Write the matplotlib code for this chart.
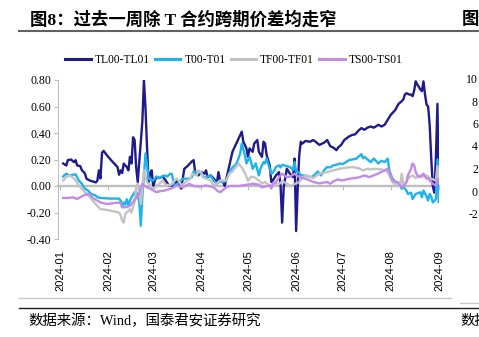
import matplotlib
matplotlib.use("Agg")
import matplotlib.pyplot as plt
import matplotlib.dates as mdates
from matplotlib.lines import Line2D
from matplotlib.ticker import FormatStrFormatter
import pandas as pd

plt.rcParams["font.family"] = ["Liberation Serif", "Noto Sans CJK SC"]

# TL00-TL01
tl_dates = ["01-03", "01-05", "01-06", "01-08", "01-10", "01-11", "01-12", "01-14", "01-15", "01-17",
            "01-18", "01-20", "01-24", "01-25", "01-26", "01-27", "01-28", "01-29", "01-30", "02-01",
            "02-04", "02-07", "02-08", "02-09", "02-10", "02-11", "02-13", "02-14", "02-15", "02-16",
            "02-17", "02-18", "02-19", "02-20", "02-21", "02-23", "02-24", "02-25", "02-26", "02-27",
            "02-28", "02-29", "03-01", "03-02", "03-03", "03-05", "03-07", "03-09", "03-11", "03-14",
            "03-16", "03-18", "03-19", "03-21", "03-23", "03-26", "03-27", "03-28", "03-30", "04-01",
            "04-03", "04-04", "04-05", "04-07", "04-09", "04-11", "04-12", "04-13", "04-15", "04-16",
            "04-19", "04-21", "04-25", "04-27", "04-28", "04-30", "05-01", "05-02", "05-04", "05-05",
            "05-07", "05-08", "05-10", "05-11", "05-12", "05-13", "05-15", "05-16", "05-17", "05-19",
            "05-21", "05-22", "05-23", "05-24", "05-26", "05-28", "05-30", "05-31", "06-01", "06-02",
            "06-03", "06-04", "06-05", "06-07", "06-10", "06-12", "06-14", "06-16", "06-19", "06-21",
            "06-23", "06-25", "06-27", "06-28", "06-30", "07-02", "07-05", "07-07", "07-09", "07-11",
            "07-13", "07-15", "07-17", "07-19", "07-21", "07-24", "07-26", "07-28", "07-30", "08-01",
            "08-02", "08-04", "08-05", "08-06", "08-08", "08-09", "08-10", "08-11", "08-13", "08-14",
            "08-15", "08-16", "08-17", "08-18", "08-20", "08-21", "08-22", "08-23", "08-24", "08-25",
            "08-26", "08-27", "08-28", "08-29", "08-30", "08-31", "09-01"]
tl_vals = [0.17, 0.155, 0.195, 0.20, 0.18, 0.195, 0.155, 0.15, 0.12, 0.095,
           0.055, 0.042, 0.027, 0.04, 0.118, 0.057, 0.25, 0.265, 0.25, 0.22,
           0.18, 0.143, 0.085, 0.118, 0.098, 0.169, 0.143, 0.118, 0.22, 0.17,
           0.368, 0.347, 0.14, 0.03, 0.18, 0.49, 0.80, 0.59, 0.29, 0.03,
           0.093, 0.118, -0.01, 0.042, 0.067, 0.06, 0.072, 0.042, 0.004, 0.0,
           0.04, 0.0, -0.02, 0.13, 0.15, 0.187, 0.195, 0.105, 0.08, 0.105,
           0.093, 0.118, 0.067, 0.08, 0.055, 0.024, 0.105, 0.04, 0.03, 0.0,
           0.156, 0.258, 0.36, 0.41, 0.334, 0.284, 0.22, 0.284, 0.258, 0.32,
           0.347, 0.258, 0.22, 0.334, 0.32, 0.233, 0.156, 0.03, 0.042, 0.08,
           0.105, 0.0, -0.276, -0.01, 0.13, 0.093, 0.067, 0.207, -0.34, -0.02,
           0.233, 0.334, 0.32, 0.34, 0.334, 0.347, 0.33, 0.31, 0.327, 0.347,
           0.30, 0.29, 0.27, 0.29, 0.31, 0.347, 0.373, 0.385, 0.39, 0.416,
           0.437, 0.424, 0.441, 0.449, 0.44, 0.462, 0.449, 0.462, 0.50, 0.538,
           0.551, 0.576, 0.60, 0.62, 0.64, 0.653, 0.69, 0.70, 0.69, 0.69,
           0.678, 0.72, 0.79, 0.767, 0.729, 0.716, 0.79, 0.69, 0.614, 0.60,
           0.46, 0.207, 0.0, -0.05, 0.21, 0.62, -0.12]

# T00-T01
t_dates = ["01-03", "01-05", "01-07", "01-11", "01-13", "01-15", "01-17", "01-19", "01-21", "01-24",
           "01-25", "01-27", "02-02", "02-08", "02-09", "02-10", "02-11", "02-12", "02-13", "02-14",
           "02-15", "02-16", "02-18", "02-19", "02-20", "02-21", "02-22", "02-23", "02-24", "02-25",
           "02-26", "02-27", "02-29", "03-01", "03-03", "03-05", "03-08", "03-10", "03-12", "03-13",
           "03-14", "03-15", "03-17", "03-20", "03-24", "03-26", "03-27", "03-30", "04-01", "04-02",
           "04-04", "04-07", "04-09", "04-11", "04-13", "04-15", "04-17", "04-19", "04-21", "04-23",
           "04-24", "04-26", "04-27", "04-29", "04-30", "05-02", "05-03", "05-04", "05-06", "05-08",
           "05-09", "05-11", "05-12", "05-13", "05-15", "05-16", "05-17", "05-19", "05-21", "05-22",
           "05-23", "05-26", "05-28", "05-30", "05-31", "06-01", "06-03", "06-04", "06-06", "06-11",
           "06-13", "06-15", "06-17", "06-19", "06-21", "06-23", "06-25", "06-27", "06-29", "07-01",
           "07-03", "07-05", "07-07", "07-10", "07-11", "07-13", "07-14", "07-15", "07-17", "07-19",
           "07-21", "07-24", "07-26", "07-28", "07-30", "07-31", "08-02", "08-04", "08-06", "08-08",
           "08-09", "08-11", "08-12", "08-14", "08-15", "08-17", "08-20", "08-21", "08-22", "08-24",
           "08-25", "08-26", "08-27", "08-28", "08-30", "08-31", "09-01"]
t_vals = [0.072, 0.093, 0.08, 0.088, 0.042, 0.017, -0.02, -0.034, -0.06, -0.072,
          -0.085, -0.09, -0.095, -0.095, -0.11, -0.16, -0.124, -0.14, -0.10, -0.15,
          -0.11, -0.085, -0.047, -0.047, -0.07, -0.124, -0.30, -0.07, 0.08, 0.246,
          0.156, 0.055, 0.042, 0.042, 0.072, 0.06, 0.08, 0.072, 0.093, 0.09,
          0.03, 0.0, 0.02, 0.055, 0.055, 0.067, 0.11, 0.105, 0.095, 0.067,
          0.07, 0.075, 0.04, 0.017, 0.035, 0.03, 0.04, 0.10, 0.14, 0.16,
          0.18, 0.246, 0.32, 0.233, 0.17, 0.22, 0.18, 0.13, 0.17, 0.08,
          0.13, 0.18, 0.17, 0.207, 0.13, 0.093, 0.10, 0.143, 0.156, 0.14,
          0.16, 0.15, 0.143, 0.12, 0.18, 0.11, 0.10, 0.08, 0.08, 0.067,
          0.085, 0.11, 0.08, 0.12, 0.143, 0.14, 0.156, 0.16, 0.17, 0.165,
          0.18, 0.195, 0.20, 0.207, 0.22, 0.24, 0.21, 0.22, 0.20, 0.18,
          0.207, 0.17, 0.19, 0.18, 0.207, 0.118, 0.055, 0.03, 0.025, -0.02,
          -0.005, -0.034, -0.06, -0.05, -0.098, -0.06, -0.047, -0.085, -0.034, -0.08,
          -0.11, -0.06, -0.08, -0.124, -0.10, 0.20, -0.12]

# TF00-TF01
tf_dates = ["01-03", "01-05", "01-07", "01-09", "01-11", "01-13", "01-15", "01-17", "01-19", "01-20",
            "01-22", "01-25", "01-27", "01-31", "02-04", "02-08", "02-09", "02-10", "02-11", "02-12",
            "02-13", "02-15", "02-16", "02-18", "02-19", "02-20", "02-21", "02-22", "02-23", "02-24",
            "02-25", "02-26", "02-28", "03-01", "03-03", "03-05", "03-07", "03-09", "03-12", "03-14",
            "03-16", "03-18", "03-19", "03-23", "03-25", "03-26", "03-29", "03-30", "04-01", "04-02",
            "04-04", "04-07", "04-09", "04-11", "04-13", "04-17", "04-19", "04-21", "04-24", "04-25",
            "04-27", "04-29", "05-01", "05-03", "05-05", "05-08", "05-10", "05-12", "05-15", "05-17",
            "05-19", "05-21", "05-23", "05-26", "05-28", "06-01", "06-03", "06-05", "06-08", "06-12",
            "06-16", "06-21", "06-25", "06-29", "07-03", "07-07", "07-11", "07-14", "07-17", "07-19",
            "07-22", "07-26", "07-29", "07-31", "08-02", "08-05", "08-07", "08-08", "08-09", "08-11",
            "08-13", "08-15", "08-17", "08-20", "08-22", "08-24", "08-26", "08-28", "08-30", "08-31",
            "09-01"]
tf_vals = [0.042, 0.067, 0.08, 0.067, 0.042, 0.004, -0.02, -0.047, -0.072, -0.08,
           -0.11, -0.15, -0.174, -0.18, -0.19, -0.20, -0.22, -0.263, -0.276, -0.21,
           -0.20, -0.174, -0.20, -0.12, -0.01, 0.017, -0.06, -0.136, -0.01, 0.118,
           0.08, 0.03, 0.004, -0.02, 0.0, 0.017, 0.042, 0.01, 0.004, 0.03,
           0.055, 0.03, 0.004, 0.042, 0.055, 0.093, 0.08, 0.118, 0.10, 0.067,
           0.055, 0.042, 0.004, 0.02, 0.042, 0.042, 0.093, 0.11, 0.156, 0.17,
           0.14, 0.10, 0.04, 0.07, 0.067, 0.042, 0.02, 0.03, 0.004, 0.0,
           0.02, 0.015, 0.035, 0.02, 0.0, 0.02, 0.03, 0.067, 0.08, 0.06,
           0.093, 0.105, 0.118, 0.13, 0.138, 0.143, 0.135, 0.118, 0.13, 0.125,
           0.13, 0.125, 0.118, 0.08, 0.03, 0.0, 0.005, 0.093, 0.01, 0.03,
           0.067, 0.08, 0.06, 0.08, 0.07, 0.08, 0.06, 0.05, 0.04, 0.15,
           0.03]

# TS00-TS01
ts_dates = ["01-03", "01-07", "01-09", "01-12", "01-14", "01-16", "01-19", "01-20", "01-22", "01-25",
            "01-27", "01-31", "02-04", "02-08", "02-09", "02-10", "02-13", "02-15", "02-17", "02-19",
            "02-21", "02-22", "02-23", "02-24", "02-26", "02-28", "03-03", "03-05", "03-08", "03-12",
            "03-14", "03-16", "03-20", "03-24", "03-27", "03-31", "04-04", "04-09", "04-11", "04-13",
            "04-15", "04-17", "04-19", "04-25", "04-30", "05-04", "05-08", "05-10", "05-15", "05-16",
            "05-17", "05-19", "05-21", "05-23", "05-26", "05-28", "05-31", "06-03", "06-05", "06-07",
            "06-10", "06-12", "06-16", "06-21", "06-23", "06-25", "06-28", "06-30", "07-02", "07-05",
            "07-09", "07-12", "07-15", "07-18", "07-21", "07-25", "07-28", "07-30", "07-31", "08-01",
            "08-02", "08-05", "08-07", "08-09", "08-11", "08-12", "08-14", "08-15", "08-16", "08-17",
            "08-18", "08-20", "08-22", "08-24", "08-25", "08-26", "08-28", "08-30", "08-31", "09-01"]
ts_vals = [-0.09, -0.09, -0.085, -0.098, -0.085, -0.072, -0.06, -0.065, -0.09, -0.11,
           -0.124, -0.136, -0.13, -0.125, -0.13, -0.16, -0.16, -0.15, -0.12, -0.09,
           -0.06, -0.01, 0.017, 0.005, -0.01, -0.02, -0.047, -0.04, -0.035, -0.02,
           -0.01, 0.004, -0.01, 0.017, 0.0, -0.005, 0.004, -0.01, -0.034, -0.047,
           -0.03, -0.01, 0.0, 0.0, 0.009, 0.017, 0.01, -0.01, 0.004, -0.02,
           0.017, 0.03, 0.067, 0.093, 0.067, 0.07, 0.093, 0.067, 0.06, 0.055,
           0.042, 0.03, 0.02, 0.03, 0.017, 0.035, 0.05, 0.042, 0.045, 0.055,
           0.06, 0.067, 0.08, 0.067, 0.08, 0.10, 0.118, 0.13, 0.105, 0.08,
           0.042, 0.03, 0.004, -0.01, 0.03, 0.08, 0.13, 0.17, 0.156, 0.105,
           0.08, 0.067, 0.093, 0.055, 0.06, 0.042, 0.017, 0.004, 0.055, 0.03]

series = [("TL00-TL01", tl_dates, tl_vals, "#1E1B8E"),
          ("T00-T01", t_dates, t_vals, "#1DB3EE"),
          ("TF00-TF01", tf_dates, tf_vals, "#C3C3C3"),
          ("TS00-TS01", ts_dates, ts_vals, "#C38AEA")]

y_ticks = [-0.4, -0.2, 0.0, 0.2, 0.4, 0.6, 0.8]
right_labels = ["10", "8", "6", "4", "2", "0", "-2"]


def to_dates(days):
    return pd.to_datetime(["2024-" + d for d in days])


fig = plt.figure(figsize=(4.79, 3.37), dpi=100)
W, H = 479, 337
ax = fig.add_axes([58 / W, 1 - 239 / H, (439 - 58) / W, (239 - 80) / H])

for name, d, v, c in series:
    ax.plot(to_dates(d), v, color=c, lw=1.7, label=name)

x0 = pd.Timestamp("2023-12-30 16:00")
x1 = pd.Timestamp("2024-09-01")
ax.set_xlim(x0, x1)
ax.set_ylim(-0.4, 0.8)
ax.set_yticks(y_ticks)
ax.yaxis.set_major_formatter(FormatStrFormatter("%.2f"))
ax.xaxis.set_major_locator(mdates.MonthLocator())
ax.xaxis.set_major_formatter(mdates.DateFormatter("%Y-%m"))

for s in ["top", "right", "bottom"]:
    ax.spines[s].set_visible(False)
ax.spines["left"].set_color("#BFBFBF")
ax.tick_params(axis="y", length=3, color="#BFBFBF", labelsize=8.5, pad=2)
ax.tick_params(axis="x", length=0, pad=8, labelsize=8, labelrotation=90,
               labelfontfamily="Liberation Sans")

# zero line with small month ticks
zx = ax.twiny()
zx.set_xlim(mdates.date2num(x0), mdates.date2num(x1))
zx.xaxis.set_major_locator(mdates.MonthLocator())
for s in ["top", "right", "left"]:
    zx.spines[s].set_visible(False)
zx.spines["bottom"].set_position(("data", 0))
zx.spines["bottom"].set_color("#BFBFBF")
zx.spines["bottom"].set_linewidth(1.7)
zx.xaxis.set_ticks_position("bottom")
zx.tick_params(axis="x", length=3, color="#BFBFBF", labelbottom=False, labeltop=False)
ax.set_zorder(zx.get_zorder() + 1)
ax.patch.set_visible(False)

handles, labels = ax.get_legend_handles_labels()
leg = fig.legend(handles, labels, loc="center", bbox_to_anchor=(234 / W, 1 - 60 / H),
                 ncol=4, frameon=False, fontsize=8.3, handlelength=2.2,
                 handletextpad=0.35, columnspacing=0.45)
for h in leg.get_lines():
    h.set_linewidth(2.2)

# title and frame lines
fig.text(30 / W, 1 - 20 / H, "图8：过去一周除 T 合约跨期价差均走窄", fontsize=12.5,
         fontweight="bold", va="center", ha="left")
fig.text(462 / W, 1 - 20 / H, "图9", fontsize=12.5, fontweight="bold", va="center", ha="left")
fig.add_artist(Line2D([19 / W, 1], [1 - 31 / H] * 2, color="#606060", lw=1.5))
fig.add_artist(Line2D([19 / W, 451 / W], [1 - 298 / H] * 2, color="#C8C8C8", lw=1))
fig.add_artist(Line2D([460 / W, 1], [1 - 303 / H] * 2, color="#C8C8C8", lw=1))
fig.add_artist(Line2D([19 / W, 1], [1 - 308 / H] * 2, color="#202020", lw=1))
fig.text(28 / W, 1 - 321 / H, "数据来源：Wind，国泰君安证券研究", fontsize=10.4, va="center", ha="left")
fig.text(460 / W, 1 - 321 / H, "数据", fontsize=10.4, va="center", ha="left")

# neighbouring chart's axis labels, cut off at the edge
for i, lab in enumerate(right_labels):
    fig.text(478 / W, 1 - (80 + i * 22.5) / H, lab, fontsize=8.5, va="center", ha="right")

fig.savefig("out.png", dpi=100)
